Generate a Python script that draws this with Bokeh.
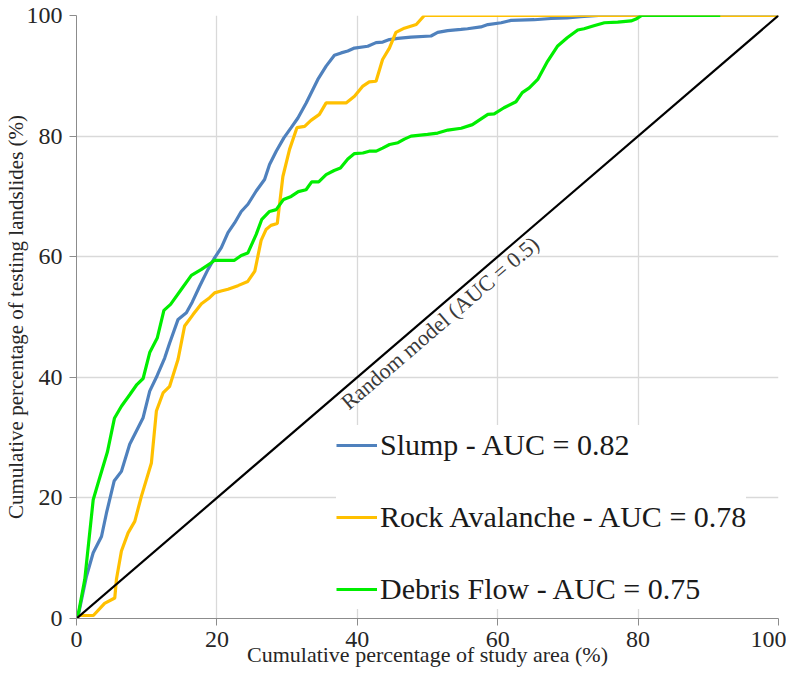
from bokeh.plotting import figure
from bokeh.models import Legend, LegendItem, Label, FixedTicker, Range1d
from bokeh.embed import file_html
from bokeh.resources import INLINE
import math

# ---------------- data ----------------
slump_x = [0, 0.33, 1.42, 2.38, 3.56, 4.27, 5.36, 6.4, 7.58, 9.49, 10.43, 11.5, 12.56, 13.27,
           14.47, 15.65, 16.5, 17.54, 18.73, 19.67, 20.63, 21.58, 22.52, 23.47, 24.42, 25.6,
           26.79, 27.5, 28.45, 29.54, 30.58, 31.54, 32.72, 34.38, 35.56, 36.74, 37.7, 38.65,
           39.59, 41.49, 42.67, 43.63, 44.57, 45.76, 47.65, 50.5, 51.45, 52.87, 54.77, 55.7,
           57.6, 58.6, 60.5, 61.9, 65.2, 67.6, 69.9, 71.8, 74.4, 100]
slump_y = [0, 0.95, 7.0, 10.9, 13.6, 17.5, 22.8, 24.4, 28.9, 33.3, 37.7, 40.3, 43.2, 45.7,
           49.6, 50.7, 52.5, 55.1, 57.9, 59.8, 61.5, 64.0, 65.6, 67.5, 68.7, 70.9,
           72.8, 75.3, 77.5, 79.7, 81.4, 83.0, 85.5, 89.4, 91.6, 93.4, 93.8, 94.1,
           94.6, 94.9, 95.5, 95.6, 96.0, 96.2, 96.4, 96.6, 97.2, 97.5, 97.7, 97.8,
           98.1, 98.5, 98.8, 99.2, 99.3, 99.5, 99.6, 99.8, 100, 100]

rock_x = [0, 0.4, 2.4, 4.0, 5.45, 5.69, 6.4, 7.35, 8.3, 9.25, 10.67, 11.38, 12.33, 13.27,
          14.47, 15.4, 16.6, 17.8, 18.96, 19.67, 20.6, 21.58, 23.0, 24.4, 25.4, 26.3, 27.0,
          27.7, 28.6, 29.4, 30.35, 31.4, 32.5, 33.4, 34.6, 35.56, 38.4, 39.6, 40.8, 41.7,
          42.67, 43.6, 44.57, 45.5, 46.7, 48.4, 49.55, 100]
rock_y = [0, 0.5, 0.5, 2.5, 3.4, 6.5, 11.2, 14.2, 16.1, 20.3, 25.8, 34.4, 37.4, 38.5,
          43.0, 48.5, 50.4, 52.2, 53.2, 54.0, 54.3, 54.6, 55.2, 55.9, 57.6, 62.7, 64.5,
          65.2, 65.5, 73.3, 77.8, 81.4, 81.6, 82.6, 83.6, 85.5, 85.5, 86.6, 88.3, 89.0,
          89.1, 92.7, 94.6, 97.2, 97.9, 98.5, 100, 100]

debris_x = [0, 0.33, 1.18, 2.38, 3.09, 4.4, 5.4, 6.4, 7.58, 8.6, 9.49, 10.43, 11.5, 12.45,
            13.4, 14.94, 16.36, 17.8, 19.2, 19.67, 22.5, 23.47, 24.4, 25.6, 26.4, 27.5, 28.45,
            29.5, 30.58, 31.6, 32.7, 33.5, 34.5, 35.56, 36.7, 37.6, 38.65, 39.6, 40.8, 41.7,
            42.7, 43.6, 44.6, 45.8, 46.7, 47.65, 50.0, 51.45, 52.9, 54.8, 56.4, 58.6, 59.5,
            60.9, 62.6, 63.5, 64.5, 65.7, 67.1, 68.5, 69.9, 71.4, 72.3, 73.7, 75.2, 77.1,
            79.0, 79.7, 80.5, 91.7]
debris_y = [0, 1.2, 6.5, 19.7, 22.5, 27.6, 33.2, 35.2, 37.1, 38.8, 39.8, 44.1, 46.5, 51.1,
            52.1, 54.6, 56.9, 57.9, 59.0, 59.4, 59.4, 60.2, 60.6, 63.7, 66.2, 67.5, 67.8,
            69.5, 70.0, 70.8, 71.1, 72.4, 72.4, 73.6, 74.3, 74.7, 76.2, 77.1, 77.2, 77.5,
            77.5, 78.0, 78.6, 78.9, 79.5, 80.0, 80.3, 80.5, 81.0, 81.3, 81.9, 83.6, 83.7,
            84.7, 85.7, 87.2, 88.0, 89.4, 92.4, 94.9, 96.3, 97.6, 97.8, 98.3, 98.8, 98.9,
            99.1, 99.4, 100, 100]

random_x = [0, 100]
random_y = [0, 100]

tick_values = [0, 20, 40, 60, 80, 100]

series_labels = ["Slump - AUC = 0.82", "Rock Avalanche - AUC = 0.78", "Debris Flow - AUC = 0.75"]
random_label = "Random model (AUC = 0.5)"
x_title = "Cumulative percentage of study area (%)"
y_title = "Cumulative percentage of testing landslides (%)"

# ---------------- styles ----------------
FONT = "Liberation Serif"
TXT = "#262626"
AXC = "#8c8c8c"
GRID = "#d9d9d9"
C_SLUMP = "#4f81bd"
C_ROCK = "#ffc000"
C_DEBRIS = "#00ee00"

p = figure(output_backend="svg", toolbar_location=None,
           width=786, height=669,
           x_range=Range1d(0, 100), y_range=Range1d(0, 100),
           min_border_left=75, min_border_right=8, min_border_top=15, min_border_bottom=51)
p.outline_line_color = None
p.background_fill_color = "white"
p.border_fill_color = "white"

for ax in (p.xaxis[0], p.yaxis[0]):
    ax.ticker = FixedTicker(ticks=tick_values)
    ax.minor_tick_line_color = None
    ax.major_tick_in = 0
    ax.major_tick_out = 7
    ax.axis_line_color = AXC
    ax.major_tick_line_color = AXC
    ax.major_label_text_font = FONT
    ax.major_label_text_font_size = "24px"
    ax.major_label_text_color = TXT
    ax.axis_label_text_font = FONT
    ax.axis_label_text_font_style = "normal"
    ax.axis_label_text_color = TXT

p.xaxis.axis_label = x_title
p.yaxis.axis_label = y_title
p.xaxis.axis_label_text_font_size = "22px"
p.yaxis.axis_label_text_font_size = "21px"
p.xaxis.major_label_standoff = 6
p.yaxis.major_label_standoff = 7
p.xaxis.axis_label_standoff = -8
p.yaxis.axis_label_standoff = -4

p.xgrid.ticker = FixedTicker(ticks=tick_values)
p.ygrid.ticker = FixedTicker(ticks=tick_values)
p.xgrid.grid_line_color = GRID
p.ygrid.grid_line_color = GRID
p.xgrid.grid_line_width = 1.3
p.ygrid.grid_line_width = 1.3

r_slump = p.line(slump_x, slump_y, line_color=C_SLUMP, line_width=3.2)
r_rock = p.line(rock_x, rock_y, line_color=C_ROCK, line_width=3.2)
r_debris = p.line(debris_x, debris_y, line_color=C_DEBRIS, line_width=3.2)
p.line(random_x, random_y, line_color="black", line_width=2.2)

ang = math.degrees(math.atan2(603, 703))
lbl = Label(x=36.95, y=36.95, text=random_label, angle=ang, angle_units="deg",
            text_font=FONT, text_font_size="22px", text_color="#3a3a3a",
            text_align="left", text_baseline="top")
p.add_layout(lbl)

legend = Legend(items=[LegendItem(label=series_labels[0], renderers=[r_slump]),
                       LegendItem(label=series_labels[1], renderers=[r_rock]),
                       LegendItem(label=series_labels[2], renderers=[r_debris])],
                location=(260, 9), orientation="vertical")
legend.label_text_font = FONT
legend.label_text_font_size = "30px"
legend.label_text_color = "#1a1a1a"
legend.glyph_width = 41
legend.glyph_height = 40
legend.label_height = 40
legend.label_standoff = 3
legend.spacing = 32
legend.padding = 6
legend.margin = 0
legend.border_line_color = None
legend.background_fill_color = "white"
legend.background_fill_alpha = 1.0
p.add_layout(legend, "center")

open("out.html", "w").write(file_html(p, INLINE))
